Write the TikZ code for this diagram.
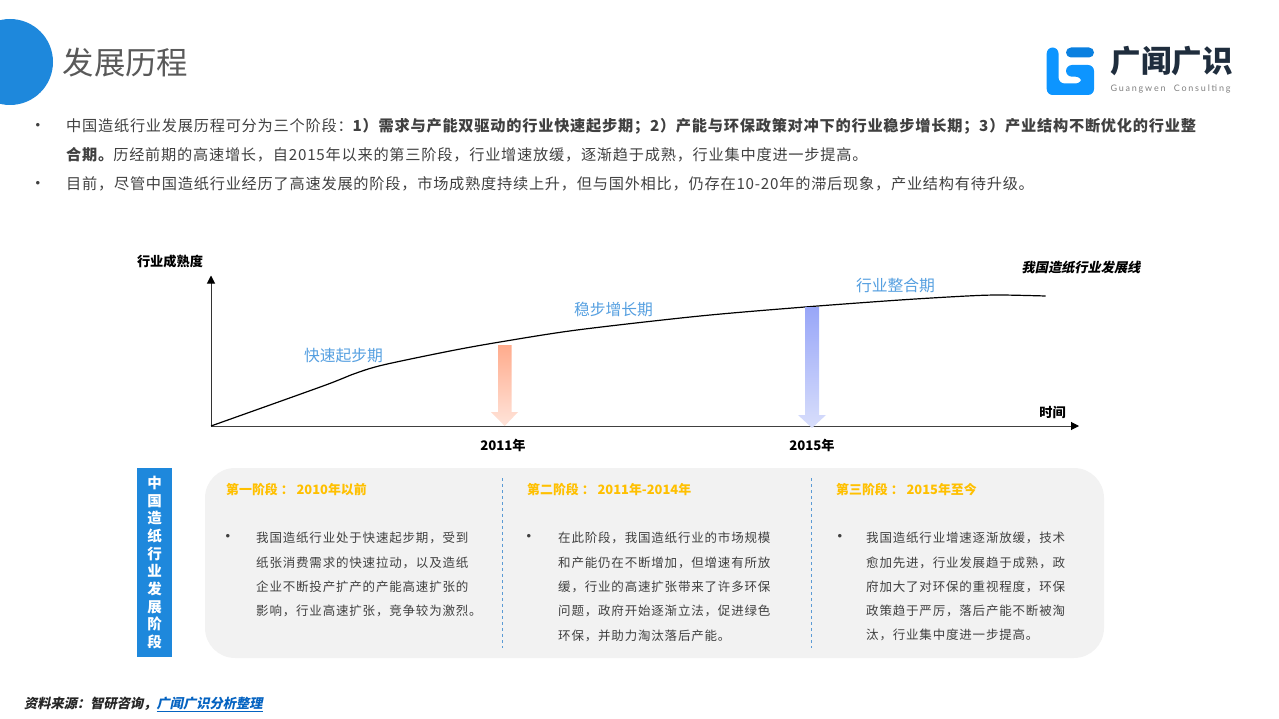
\documentclass[tikz,border=0pt]{standalone}
\usepackage{fontspec}
\usetikzlibrary{arrows.meta}
\setmainfont{Noto Sans CJK SC}
\newfontfamily\spacedcn[LetterSpace=5]{Noto Sans CJK SC}
\newfontfamily\stagecn[LetterSpace=6.5]{Noto Sans CJK SC}
\newfontfamily\slantcn[FakeSlant=0.2]{Noto Sans CJK SC}
\newfontfamily\logolatin[LetterSpace=20]{Lato}
\newfontfamily\dotfont{Liberation Sans}
\definecolor{mainblue}{HTML}{1E88DC}
\definecolor{textgray}{HTML}{404040}
\definecolor{labelblue}{HTML}{5B9BD5}
\definecolor{phaseblue}{HTML}{559FE0}
\definecolor{headorange}{HTML}{FFC000}
\definecolor{panelgray}{HTML}{F2F2F2}
\definecolor{logoblue}{HTML}{0D95FF}
\definecolor{logodark}{HTML}{0A80E0}
\definecolor{logotextc}{HTML}{1F2D3D}
\definecolor{linkblue}{HTML}{0563C1}
\definecolor{salmontop}{HTML}{FFAB8C}
\definecolor{salmonend}{HTML}{FFE4DA}
\definecolor{periwinkletop}{HTML}{98A6F8}
\definecolor{periwinkleend}{HTML}{D8DEFB}
\begin{document}
\begin{tikzpicture}[x=1pt,y=-1pt]
        \tikzstyle{intro}=[anchor=west,inner sep=0pt,text=textgray,font=\fontsize{15.2}{18}\spacedcn]
        \tikzstyle{bullet}=[anchor=center,inner sep=0pt,text=textgray,font=\fontsize{13}{16}\dotfont]
        \tikzstyle{stagetitle}=[anchor=west,inner sep=0pt,text=headorange,font=\fontsize{12.9}{15}\selectfont\bfseries]
        \tikzstyle{stagetext}=[anchor=north west,inner sep=0pt,align=left,text=textgray,font=\fontsize{12.5}{24.3}\stagecn]
        \tikzstyle{phase}=[inner sep=0pt,text=phaseblue,font=\fontsize{15.8}{18}\selectfont]
        \tikzstyle{axislabel}=[inner sep=0pt,text=black,font=\fontsize{13.2}{15}\selectfont\bfseries]
        \tikzstyle{axis}=[draw,line width=1pt,-{Triangle[length=8pt,width=8pt,color=black]}]
        \tikzstyle{divider}=[draw=labelblue,line width=0.9pt,dashed]
        \useasboundingbox (0,0) rectangle (1279,719);
        \begin{scope}
                % header
                \fill[mainblue] (10,62) circle (43);
                \node [inner sep=0pt,text=black!65,font=\fontsize{31.4}{36}\selectfont] (title) at (125.5,63) {发展历程};
                \fill[logoblue,rounded corners=6pt] (1046.7,47.5) -- (1058.5,47.5) -- (1058.5,83.5) -- (1081.7,83.5) -- (1081.7,76.7) -- (1066,76.7) -- (1066,65) -- (1094,65) -- (1094,95) -- (1046.7,95) -- cycle;
                \fill[logodark,rounded corners=5pt] (1066,47.5) -- (1094,47.5) -- (1094,57.5) -- (1066,57.5) -- cycle;
                \node [inner sep=0pt,text=logotextc,font=\fontsize{30.5}{34}\selectfont\bfseries] (logotext) at (1171.5,61) {广闻广识};
                \node [inner sep=0pt,text=black!50,font=\fontsize{9}{11}\logolatin] (logosub) at (1170.5,89.5) {Guangwen\ \ Consulting};
                % intro
                \node [bullet] (b1) at (38,126) {•};
                \node [intro] (line1) at (66,126) {中国造纸行业发展历程可分为三个阶段：{\bfseries 1）需求与产能双驱动的行业快速起步期；2）产能与环保政策对冲下的行业稳步增长期；3）产业结构不断优化的行业整}};
                \node [intro] (line2) at (66,155) {{\bfseries 合期。}历经前期的高速增长，自2015年以来的第三阶段，行业增速放缓，逐渐趋于成熟，行业集中度进一步提高。};
                \node [bullet] (b2) at (38,184) {•};
                \node [intro] (line3) at (66,184) {目前，尽管中国造纸行业经历了高速发展的阶段，市场成熟度持续上升，但与国外相比，仍存在10-20年的滞后现象，产业结构有待升级。};
                % chart
                \coordinate (origin) at (211,426);
                \coordinate (ytop) at (211,275.5);
                \coordinate (xend) at (1079,426);
                \path[axis,black!80] (origin) -- (ytop);
                \path[axis,black!75] (origin) -- (xend);
                \draw[black,line width=1.2pt] plot[smooth,tension=0.5] coordinates {(origin) (323,386) (355,373.5) (383,365) (450,351) (500,342) (577,330) (700,316) (805,307) (900,300) (967,296) (1000,295) (1045.7,296)};
                \shade[top color=salmontop,bottom color=salmonend] (498,345) -- (511.5,345) -- (511.5,412) -- (518,412) -- (504.7,426) -- (491,412) -- (498,412) -- cycle;
                \shade[top color=periwinkletop,bottom color=periwinkleend] (805,307) -- (819,307) -- (819,415) -- (826,415) -- (812,428) -- (798,415) -- (805,415) -- cycle;
                \node [axislabel] (ylabel) at (170,261) {行业成熟度};
                \node [axislabel] (xlabel) at (1052.5,412) {时间};
                \node [axislabel] (y2011) at (503,445) {2011年};
                \node [axislabel] (y2015) at (812,445) {2015年};
                \node [phase] (p1) at (343.5,356) {快速起步期};
                \node [phase] (p2) at (613.5,309) {稳步增长期};
                \node [phase] (p3) at (895.5,286) {行业整合期};
                \node [inner sep=0pt,text=black,font=\fontsize{13.2}{15}\slantcn\bfseries] (devline) at (1081,267.5) {我国造纸行业发展线};
                % stages
                \node [fill=mainblue,minimum width=35pt,minimum height=189pt,inner sep=0pt,align=center,text=white,font=\fontsize{14.5}{17.7}\selectfont\bfseries] (side) at (154.5,562.5) {中\\国\\造\\纸\\行\\业\\发\\展\\阶\\段};
                \node [fill=panelgray,rounded corners=30pt,minimum width=899pt,minimum height=190pt,inner sep=0pt] (panel) at (654.5,563) {};
                \coordinate (d1a) at (502.5,478);
                \coordinate (d1b) at (502.5,648);
                \coordinate (d2a) at (811.5,478);
                \coordinate (d2b) at (811.5,648);
                \path[divider] (d1a) -- (d1b);
                \path[divider] (d2a) -- (d2b);
                \node [stagetitle] (s1) at (226,490) {第一阶段 ： 2010年以前};
                \node [stagetitle] (s2) at (527,490) {第二阶段 ： 2011年-2014年};
                \node [stagetitle] (s3) at (836,490) {第三阶段 ： 2015年至今};
                \node [bullet] (sb1) at (228,537) {•};
                \node [bullet] (sb2) at (529,537) {•};
                \node [bullet] (sb3) at (840,537) {•};
                \node [stagetext] (t1) at (256,532) {我国造纸行业处于快速起步期，受到\\纸张消费需求的快速拉动，以及造纸\\企业不断投产扩产的产能高速扩张的\\影响，行业高速扩张，竞争较为激烈。};
                \node [stagetext] (t2) at (558,532) {在此阶段，我国造纸行业的市场规模\\和产能仍在不断增加，但增速有所放\\缓，行业的高速扩张带来了许多环保\\问题，政府开始逐渐立法，促进绿色\\环保，并助力淘汰落后产能。};
                \node [stagetext] (t3) at (866,532) {我国造纸行业增速逐渐放缓，技术\\愈加先进，行业发展趋于成熟，政\\府加大了对环保的重视程度，环保\\政策趋于严厉，落后产能不断被淘\\汰，行业集中度进一步提高。};
                % source
                \node [anchor=west,inner sep=0pt,text=black!85,font=\fontsize{13.25}{16}\slantcn\bfseries] (source) at (24,704) {资料来源：智研咨询，\textcolor{linkblue}{\underline{广闻广识分析整理}}};
        \end{scope}
\end{tikzpicture}
\end{document}
